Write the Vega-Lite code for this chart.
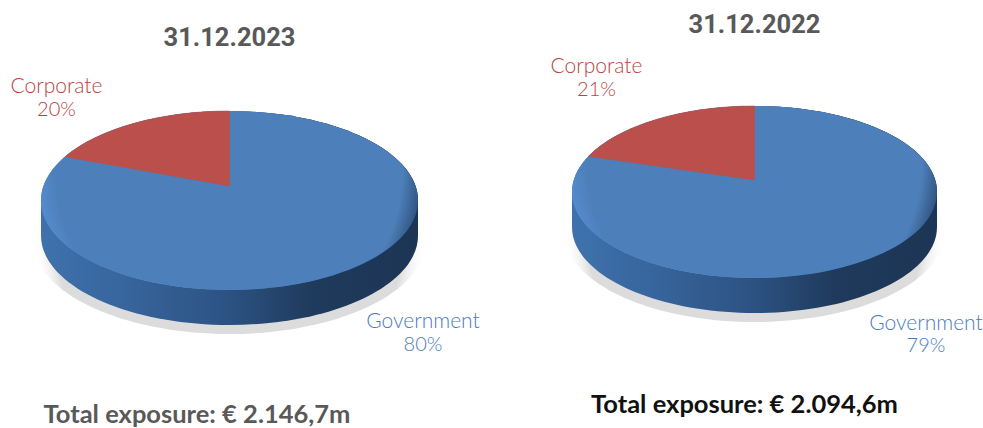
{
"$schema":"https://vega.github.io/schema/vega-lite/v6.json",
"width":983,"height":428,"padding":0,"autosize":{"type":"none"},"background":"white",
"view":{"stroke":null},
"datasets":{
"panels":[{"panel":"31.12.2023","total":"Total exposure: € 2.146,7m"},{"panel":"31.12.2022","total":"Total exposure: € 2.094,6m"}],
"shares":[{"panel":"31.12.2023","series":"Corporate","share":0.20},{"panel":"31.12.2023","series":"Government","share":0.80},{"panel":"31.12.2022","series":"Corporate","share":0.21},{"panel":"31.12.2022","series":"Government","share":0.79}]
},
"resolve":{"scale":{"x":"independent","y":"independent","shape":"independent","color":"independent"}},
"layer":[
{"data":{"name":"panels"},
"mark":{"type":"point","filled":true,"opacity":1,"size":4,"stroke":null,"fill":{"gradient":"radial","x1":0.5,"y1":0.5,"r1":0,"x2":0.5,"y2":0.5,"r2":0.5,"stops":[{"offset":0,"color":"#dcdcdc"},{"offset":0.88,"color":"#dcdcdc"},{"offset":1,"color":"rgba(255,255,255,0)"}]}},
"encoding":{
"x":{"field":"panel","type":"nominal","axis":null,"scale":{"type":"point","padding":0,"domain":["31.12.2023","31.12.2022"],"range":[229.5,754.5]}},
"y":{"field":"panel","type":"nominal","axis":null,"scale":{"type":"point","padding":0,"domain":["31.12.2023","31.12.2022"],"range":[200.5,192]}},
"shape":{"field":"panel","type":"nominal","legend":null,"scale":{"domain":["31.12.2023","31.12.2022"],"range":["M-196.5 40 C-196.5 -11.6 -108.5 -53.5 0 -53.5 C108.5 -53.5 196.5 -11.6 196.5 40 C196.5 91.6 108.5 133.5 0 133.5 C-108.5 133.5 -196.5 91.6 -196.5 40 Z","M-190.5 40 C-190.5 -9.7 -105.2 -50 0 -50 C105.2 -50 190.5 -9.7 190.5 40 C190.5 89.7 105.2 130 0 130 C-105.2 130 -190.5 89.7 -190.5 40 Z"]}}
}},
{"data":{"name":"panels"},
"mark":{"type":"point","filled":true,"opacity":1,"size":4,"stroke":null,"fill":{"gradient":"linear","x1":0,"y1":0,"x2":1,"y2":0,"stops":[{"offset":0,"color":"#3f72ad"},{"offset":0.25,"color":"#36639a"},{"offset":0.5,"color":"#2c5282"},{"offset":0.72,"color":"#1f3a5c"},{"offset":1,"color":"#1d3555"}]}},
"encoding":{
"x":{"field":"panel","type":"nominal","axis":null,"scale":{"type":"point","padding":0,"domain":["31.12.2023","31.12.2022"],"range":[229.5,754.5]}},
"y":{"field":"panel","type":"nominal","axis":null,"scale":{"type":"point","padding":0,"domain":["31.12.2023","31.12.2022"],"range":[200.5,192]}},
"shape":{"field":"panel","type":"nominal","legend":null,"scale":{"domain":["31.12.2023","31.12.2022"],"range":["M-188.5 0 C-188.5 -49.4 -104.1 -89.5 0 -89.5 C104.1 -89.5 188.5 -49.4 188.5 0 L188.5 35 C188.5 84.4 104.1 124.5 0 124.5 C-104.1 124.5 -188.5 84.4 -188.5 35 Z","M-182.5 0 C-182.5 -47.5 -100.8 -86 0 -86 C100.8 -86 182.5 -47.5 182.5 0 L182.5 35 C182.5 82.5 100.8 121 0 121 C-100.8 121 -182.5 82.5 -182.5 35 Z"]}}
}},
{"data":{"name":"panels"},
"mark":{"type":"point","filled":true,"opacity":1,"size":4,"stroke":null,"fill":{"gradient":"linear","x1":0,"y1":0,"x2":1,"y2":0,"stops":[{"offset":0,"color":"#5a92d8"},{"offset":0.3,"color":"#66a0e8"},{"offset":0.5,"color":"#4f82c0"},{"offset":0.65,"color":"#36608f"},{"offset":0.8,"color":"#24436a"},{"offset":1,"color":"#1f3a5c"}]}},
"encoding":{
"x":{"field":"panel","type":"nominal","axis":null,"scale":{"type":"point","padding":0,"domain":["31.12.2023","31.12.2022"],"range":[229.5,754.5]}},
"y":{"field":"panel","type":"nominal","axis":null,"scale":{"type":"point","padding":0,"domain":["31.12.2023","31.12.2022"],"range":[200.5,192]}},
"shape":{"field":"panel","type":"nominal","legend":null,"scale":{"domain":["31.12.2023","31.12.2022"],"range":["M-188.5 0 C-188.5 -49.4 -104.1 -89.5 0 -89.5 C104.1 -89.5 188.5 -49.4 188.5 0 C188.5 49.4 104.1 89.5 0 89.5 C-104.1 89.5 -188.5 49.4 -188.5 0 Z","M-182.5 0 C-182.5 -47.5 -100.8 -86 0 -86 C100.8 -86 182.5 -47.5 182.5 0 C182.5 47.5 100.8 86 0 86 C-100.8 86 -182.5 47.5 -182.5 0 Z"]}}
}},
{"data":{"name":"shares"},"transform":[{"filter":"datum.series==='Government'"}],
"mark":{"type":"point","filled":true,"opacity":1,"size":4,"stroke":null,"fill":{"gradient":"radial","x1":0.5,"y1":0.42,"r1":0,"x2":0.5,"y2":0.42,"r2":0.54,"stops":[{"offset":0,"color":"#4d7fba"},{"offset":0.85,"color":"#4d7fba"},{"offset":1,"color":"rgba(77,127,186,0)"}]}},
"encoding":{
"x":{"field":"panel","type":"nominal","axis":null,"scale":{"type":"point","padding":0,"domain":["31.12.2023","31.12.2022"],"range":[229.5,754.5]}},
"y":{"field":"panel","type":"nominal","axis":null,"scale":{"type":"point","padding":0,"domain":["31.12.2023","31.12.2022"],"range":[200.5,192]}},
"shape":{"field":"panel","type":"nominal","legend":null,"scale":{"domain":["31.12.2023","31.12.2022"],"range":["M-188.5 0 C-188.5 -49.4 -104.1 -89.5 0 -89.5 C104.1 -89.5 188.5 -49.4 188.5 0 C188.5 49.4 104.1 89.5 0 89.5 C-104.1 89.5 -188.5 49.4 -188.5 0 Z","M-182.5 0 C-182.5 -47.5 -100.8 -86 0 -86 C100.8 -86 182.5 -47.5 182.5 0 C182.5 47.5 100.8 86 0 86 C-100.8 86 -182.5 47.5 -182.5 0 Z"]}}
}},
{"data":{"name":"shares"},"transform":[{"filter":"datum.series==='Corporate'"}],
"mark":{"type":"point","filled":true,"opacity":1,"size":4,"stroke":"#ba4f4b","strokeWidth":0.6,"fill":"#ba4f4b"},
"encoding":{
"x":{"field":"panel","type":"nominal","axis":null,"scale":{"type":"point","padding":0,"domain":["31.12.2023","31.12.2022"],"range":[229.5,754.5]}},
"y":{"field":"panel","type":"nominal","axis":null,"scale":{"type":"point","padding":0,"domain":["31.12.2023","31.12.2022"],"range":[200.5,192]}},
"shape":{"field":"panel","type":"nominal","legend":null,"scale":{"domain":["31.12.2023","31.12.2022"],"range":["M0 -14.5 L0 -89.5 C-68.3 -89.5 -131.2 -72 -164.5 -43.7 Z","M0 -12 L0 -86 C-71.5 -86 -136.3 -66.4 -166 -35.7 Z"]}}
}},
{"data":{"name":"panels"},
"mark":{"type":"text","font":"Roboto","fontWeight":"bold","fontSize":25.5,"color":"#595959","align":"center","baseline":"alphabetic"},
"encoding":{
"text":{"field":"panel","type":"nominal"},
"x":{"field":"panel","type":"nominal","axis":null,"scale":{"type":"point","padding":0,"domain":["31.12.2023","31.12.2022"],"range":[229.5,754.5]}},
"y":{"field":"panel","type":"nominal","axis":null,"scale":{"type":"point","padding":0,"domain":["31.12.2023","31.12.2022"],"range":[46,33]}}
}},
{"data":{"name":"panels"},
"mark":{"type":"text","font":"Lato","fontWeight":"bold","fontSize":25.5,"align":"center","baseline":"alphabetic"},
"encoding":{
"text":{"field":"total","type":"nominal"},
"color":{"field":"panel","type":"nominal","legend":null,"scale":{"domain":["31.12.2023","31.12.2022"],"range":["#595959","#111111"]}},
"x":{"field":"panel","type":"nominal","axis":null,"scale":{"type":"point","padding":0,"domain":["31.12.2023","31.12.2022"],"range":[197,744.5]}},
"y":{"field":"panel","type":"nominal","axis":null,"scale":{"type":"point","padding":0,"domain":["31.12.2023","31.12.2022"],"range":[423,413]}}
}},
{"data":{"name":"shares"},"transform":[{"filter":"datum.series==='Corporate'"}],
"mark":{"type":"text","font":"Lato","fontWeight":300,"fontSize":21,"color":"#b8433f","align":"center","baseline":"alphabetic"},
"encoding":{
"text":{"field":"series","type":"nominal"},
"x":{"field":"panel","type":"nominal","axis":null,"scale":{"type":"point","padding":0,"domain":["31.12.2023","31.12.2022"],"range":[56.5,596.5]}},
"y":{"field":"panel","type":"nominal","axis":null,"scale":{"type":"point","padding":0,"domain":["31.12.2023","31.12.2022"],"range":[93,73]}}
}},
{"data":{"name":"shares"},"transform":[{"filter":"datum.series==='Corporate'"}],
"mark":{"type":"text","font":"Lato","fontWeight":300,"fontSize":20,"color":"#b8433f","align":"center","baseline":"alphabetic"},
"encoding":{
"text":{"field":"share","type":"quantitative","format":".0%"},
"x":{"field":"panel","type":"nominal","axis":null,"scale":{"type":"point","padding":0,"domain":["31.12.2023","31.12.2022"],"range":[56.5,596.5]}},
"y":{"field":"panel","type":"nominal","axis":null,"scale":{"type":"point","padding":0,"domain":["31.12.2023","31.12.2022"],"range":[116,96]}}
}},
{"data":{"name":"shares"},"transform":[{"filter":"datum.series==='Government'"}],
"mark":{"type":"text","font":"Lato","fontWeight":300,"fontSize":21,"color":"#4a7cbd","align":"center","baseline":"alphabetic"},
"encoding":{
"text":{"field":"series","type":"nominal"},
"x":{"field":"panel","type":"nominal","axis":null,"scale":{"type":"point","padding":0,"domain":["31.12.2023","31.12.2022"],"range":[423,926]}},
"y":{"field":"panel","type":"nominal","axis":null,"scale":{"type":"point","padding":0,"domain":["31.12.2023","31.12.2022"],"range":[328,330]}}
}},
{"data":{"name":"shares"},"transform":[{"filter":"datum.series==='Government'"}],
"mark":{"type":"text","font":"Lato","fontWeight":300,"fontSize":20,"color":"#4a7cbd","align":"center","baseline":"alphabetic"},
"encoding":{
"text":{"field":"share","type":"quantitative","format":".0%"},
"x":{"field":"panel","type":"nominal","axis":null,"scale":{"type":"point","padding":0,"domain":["31.12.2023","31.12.2022"],"range":[423,926]}},
"y":{"field":"panel","type":"nominal","axis":null,"scale":{"type":"point","padding":0,"domain":["31.12.2023","31.12.2022"],"range":[351,352]}}
}}
]
}
